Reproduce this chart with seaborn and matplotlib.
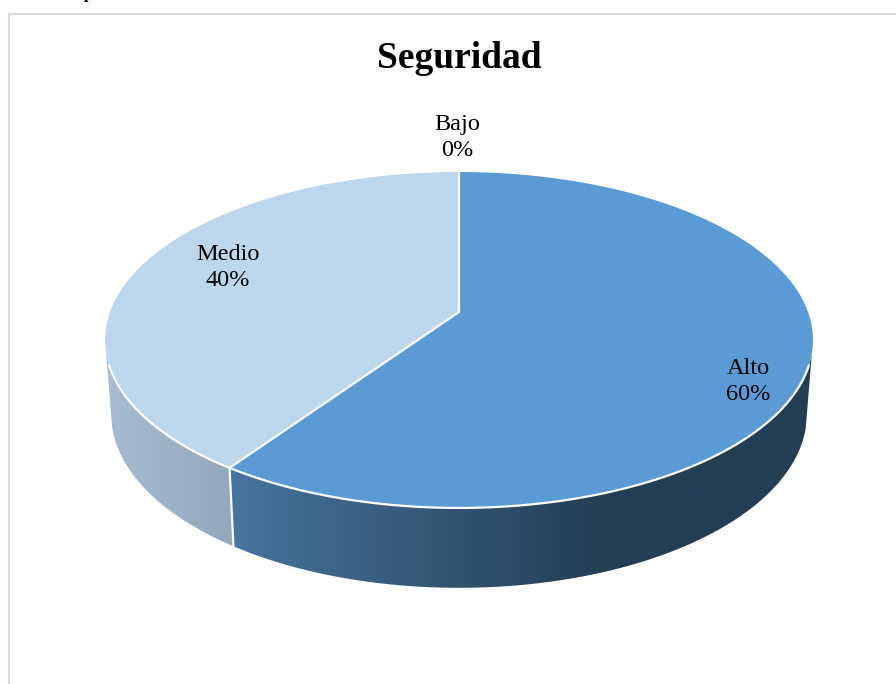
import numpy as np
import matplotlib
matplotlib.use("Agg")
import matplotlib.pyplot as plt
from matplotlib.patches import Polygon
import seaborn as sns

# data (shares are rounded in the labels)
categories = ["Alto", "Bajo", "Medio"]
shares = [59.6, 0.0, 40.4]
top_colors = ["#5b9bd5", "#a5a5a5", "#bcd6ec"]
wall_from = ["#46759f", "#808080", "#93a8bc"]
wall_to = ["#243e54", "#606060", "#a6bcd2"]
label_pos = {"Alto": (748, 381.5), "Bajo": (457, 137.5), "Medio": (227.5, 267.5)}

sns.set_theme(style="white")
plt.rcParams["font.family"] = ["Liberation Serif", "DejaVu Serif"]

# tilted view of the pie, in pixels of the figure
CX = 459
TILT = 1 / 6
TOP = dict(a=349, b=163.3, apex=312)
BOTTOM = dict(a=343, b=169, apex=385)


def project(theta, rim):
    # theta in degrees, clockwise from twelve o'clock
    t = np.radians(theta)
    d = 1 + TILT * np.cos(t)
    return CX + rim["a"] * np.sin(t) / d, rim["apex"] - rim["b"] * np.cos(t) / d


fig = plt.figure(figsize=(8.96, 6.84), dpi=100)
ax = fig.add_axes([0, 0, 1, 1])
ax.axis("off")

# frame of the chart
ax.plot([896, 9, 9], [14, 14, 684], color="#d9d9d9", lw=1.5, solid_joinstyle="miter", zorder=1)

edges = np.concatenate([[0], np.cumsum(shares)]) * 3.6

# side wall first, only the front shows
for i, cat in enumerate(categories):
    start, stop = max(edges[i], 104), min(edges[i + 1], 256)
    if stop <= start:
        continue
    steps = np.linspace(start, stop, 240)
    tx, ty = project(steps, TOP)
    bx, by = project(steps, BOTTOM)
    outline = np.column_stack([np.r_[tx, bx[::-1]], np.r_[ty, by[::-1]]])
    left, right = outline[:, 0].min(), outline[:, 0].max()
    shades = np.array(sns.blend_palette([wall_from[i], wall_to[i]], 256))
    columns = np.linspace(left, right, 512)
    if cat == "Alto":
        # fades out towards the right, dark from about x=600 on
        frac = np.clip((columns - left) / (600 - left), 0, 1)
    else:
        frac = (right - columns) / (right - left)
    strip = shades[(frac * 255).astype(int)][np.newaxis, :, :]
    im = ax.imshow(strip, extent=(left, right, by.max(), ty.min()), aspect="auto",
                   interpolation="bilinear", zorder=2)
    im.set_clip_path(Polygon(outline, transform=ax.transData))

ax.set_xlim(0, 896)
ax.set_ylim(684, 0)

# white seam on the wall between the two slices
seam = edges[1]
sx, sy = project(np.array([seam, seam]), TOP)
wx, wy = project(np.array([seam, seam]), BOTTOM)
ax.plot([sx[0], wx[0]], [sy[0], wy[0]], color="white", lw=1.6, zorder=3)

# top face
for i, cat in enumerate(categories):
    if shares[i] == 0:
        continue
    steps = np.linspace(edges[i], edges[i + 1], 300)
    x, y = project(steps, TOP)
    ax.fill(np.r_[CX, x], np.r_[TOP["apex"], y], color=top_colors[i], lw=0, zorder=4)

# white lines between slices and along the front rim
for e in [edges[0], edges[1]]:
    x, y = project(np.array([e]), TOP)
    ax.plot([CX, x[0]], [TOP["apex"], y[0]], color="white", lw=1.6, zorder=5)
rx, ry = project(np.linspace(108, 252, 300), TOP)
ax.plot(rx, ry, color="white", lw=1.6, zorder=5)

# labels
for cat, share in zip(categories, shares):
    px, py = label_pos[cat]
    ax.text(px, py, f"{cat}\n{share:.0f}%", ha="center", va="center", fontsize=17.5,
            color="black", linespacing=1.35, zorder=6)

ax.text(459, 59, "Seguridad", ha="center", va="center", fontsize=27, fontweight="bold", color="black")

# tail of the caption above the chart, cut off by the page
ax.text(88, -1.5, "p", ha="center", va="baseline", fontsize=12, fontweight="bold", color="black", clip_on=False)

fig.savefig("out.png", dpi=100)
